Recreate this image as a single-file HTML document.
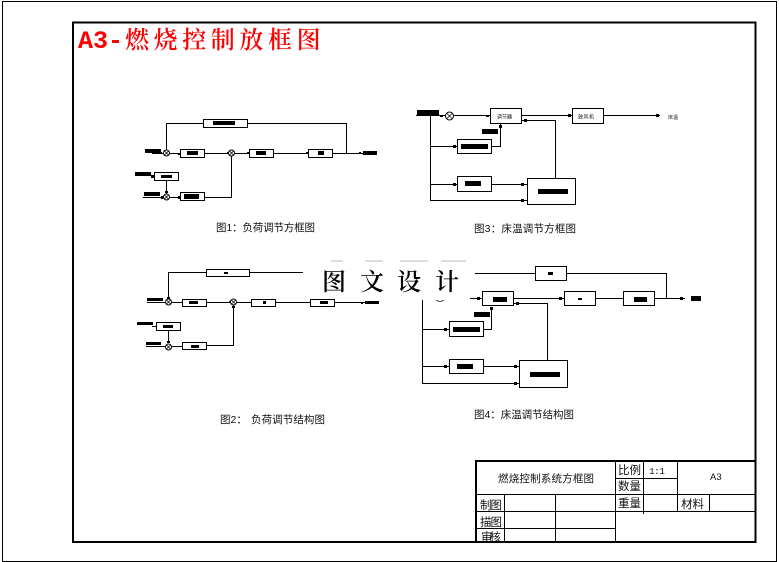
<!DOCTYPE html>
<html><head><meta charset="utf-8">
<style>
html,body{margin:0;padding:0;background:#fff;width:779px;height:562px;overflow:hidden}
svg{display:block}
.l line,.l polyline{stroke:#000;stroke-width:1;fill:none}
.b rect{fill:#fff;stroke:#000;stroke-width:1}
.k rect{fill:#000;stroke:none}
.c circle{fill:#fff;stroke:#000;stroke-width:1}
.c line{stroke:#000;stroke-width:.7}
text{font-family:"Liberation Sans","Noto Sans CJK SC",sans-serif;fill:#111}
</style></head><body>
<svg width="779" height="562" viewBox="0 0 779 562" xmlns="http://www.w3.org/2000/svg">
<rect x="2.5" y="1.5" width="774" height="560" fill="#fff" stroke="#000" stroke-width="1" shape-rendering="crispEdges"/>
<rect x="73" y="22.5" width="682.5" height="519.5" fill="#fff" stroke="#000" stroke-width="2" shape-rendering="crispEdges"/>

<text x="78" y="48" font-size="25" font-weight="bold" style="fill:#ff0000;font-family:'Liberation Mono',monospace">A3-</text>
<text x="125" y="48" font-size="24" style="fill:#ff0000;font-family:'Noto Serif CJK SC',serif;font-weight:600" letter-spacing="4.6">燃烧控制放框图</text>

<!-- Diagram 1 -->
<g shape-rendering="crispEdges">
<g class="l">
<polyline points="166.5,153 166.5,123.5 346.5,123.5 346.5,153"/>
<line x1="152" y1="153.5" x2="363" y2="153.5"/>
<line x1="145" y1="152.5" x2="162" y2="152.5"/>
<line x1="166.5" y1="180" x2="166.5" y2="194"/>
<line x1="143" y1="197.5" x2="180" y2="197.5"/>
<polyline points="204,197.5 231.5,197.5 231.5,153"/>
<line x1="151" y1="176.5" x2="155" y2="176.5"/>
</g>
<g class="b">
<rect x="203.5" y="119.5" width="44" height="8"/>
<rect x="180.5" y="149.5" width="24" height="8"/>
<rect x="249.5" y="149.5" width="24" height="8"/>
<rect x="308.5" y="149.5" width="24" height="8"/>
<rect x="154.5" y="172.5" width="24" height="8"/>
<rect x="180.5" y="192.5" width="24" height="8"/>
</g>
<g class="k">
<rect x="213" y="121" width="22" height="4"/><rect x="187" y="151" width="11" height="4"/>
<rect x="256" y="151" width="10" height="4"/><rect x="318" y="151" width="6" height="4"/>
<rect x="161" y="175" width="11" height="3"/><rect x="184" y="194" width="15" height="5"/>
<rect x="363" y="151" width="14" height="4"/>
<rect x="145" y="149" width="16" height="3"/><rect x="135" y="172" width="16" height="4"/><rect x="144" y="192" width="16" height="4"/>
<rect x="164" y="150" width="2" height="2"/><rect x="178" y="153" width="2" height="2"/><rect x="227" y="152" width="2" height="2"/><rect x="247" y="152" width="2" height="2"/><rect x="306" y="152" width="2" height="2"/><rect x="359" y="152" width="2" height="2"/>
<rect x="165" y="191" width="3" height="2"/><rect x="161" y="196" width="2" height="3"/><rect x="178" y="196" width="2" height="3"/><rect x="151" y="175" width="3" height="3"/>
</g>
</g>
<g class="c">
<circle cx="166.5" cy="153" r="3"/><line x1="164.5" y1="151" x2="168.5" y2="155"/><line x1="168.5" y1="151" x2="164.5" y2="155"/>
<circle cx="231.5" cy="153" r="3"/><line x1="229.5" y1="151" x2="233.5" y2="155"/><line x1="233.5" y1="151" x2="229.5" y2="155"/>
<circle cx="166.5" cy="197" r="3"/><line x1="164.5" y1="195" x2="168.5" y2="199"/><line x1="168.5" y1="195" x2="164.5" y2="199"/>
</g>
<text x="216" y="231" font-size="10.5" textLength="99">图1：负荷调节方框图</text>

<!-- Diagram 3 -->
<g shape-rendering="crispEdges">
<g class="l">
<line x1="416" y1="115.5" x2="445" y2="115.5"/>
<line x1="453" y1="115.5" x2="490" y2="115.5"/>
<line x1="522" y1="115.5" x2="572" y2="115.5"/>
<line x1="604" y1="115.5" x2="660" y2="115.5"/>
<polyline points="430.5,115 430.5,200.5 527,200.5"/>
<line x1="430" y1="146.5" x2="457" y2="146.5"/>
<line x1="430" y1="184.5" x2="457" y2="184.5"/>
<line x1="492" y1="184.5" x2="527" y2="184.5"/>
<polyline points="492,146.5 500.5,146.5 500.5,124"/>
<polyline points="555.5,178 555.5,120.5 522,120.5"/>
</g>
<g class="b">
<rect x="490.5" y="108.5" width="31" height="15"/>
<rect x="572.5" y="108.5" width="31" height="15"/>
<rect x="457.5" y="139.5" width="34" height="14"/>
<rect x="457.5" y="176.5" width="34" height="15"/>
<rect x="527.5" y="178.5" width="48" height="26"/>
</g>
<g class="k">
<rect x="417" y="110" width="22" height="5"/>
<rect x="461" y="144" width="27" height="5"/><rect x="465" y="181" width="16" height="5"/><rect x="538" y="189" width="30" height="5"/>
<rect x="482" y="129" width="16" height="5"/>
<rect x="440" y="115" width="3" height="2"/><rect x="486" y="115" width="3" height="2"/><rect x="568" y="114" width="3" height="3"/><rect x="656" y="114" width="3" height="3"/>
<rect x="453" y="145" width="3" height="3"/><rect x="453" y="183" width="3" height="3"/><rect x="521" y="183" width="3" height="3"/><rect x="521" y="199" width="3" height="3"/>
<rect x="499" y="125" width="3" height="3"/><rect x="524" y="119" width="3" height="3"/>
</g>
</g>
<g class="c"><circle cx="449.5" cy="116" r="4"/><line x1="446.7" y1="113.2" x2="452.3" y2="118.8"/><line x1="452.3" y1="113.2" x2="446.7" y2="118.8"/></g>
<text x="497" y="118.5" font-size="5" textLength="15">调节器</text>
<text x="578" y="118.5" font-size="5" textLength="16">鼓风机</text>
<text x="668" y="119" font-size="5" textLength="10">床温</text>
<text x="474" y="232" font-size="10.5" textLength="102">图3：床温调节方框图</text>

<!-- Diagram 2 -->
<g shape-rendering="crispEdges">
<g class="l">
<polyline points="168.5,299 168.5,272.5 304,272.5"/>
<line x1="171" y1="302.5" x2="365" y2="302.5"/>
<line x1="147" y1="302.5" x2="165" y2="302.5"/>
<line x1="168.5" y1="330" x2="168.5" y2="343"/>
<line x1="146" y1="346.5" x2="182" y2="346.5"/>
<polyline points="207,345.5 233.5,345.5 233.5,305"/>
<line x1="152" y1="326.5" x2="156" y2="326.5"/>
</g>
<g class="b">
<rect x="206.5" y="269.5" width="43" height="7"/>
<rect x="182.5" y="299.5" width="24" height="7"/>
<rect x="251.5" y="299.5" width="24" height="7"/>
<rect x="310.5" y="299.5" width="24" height="7"/>
<rect x="156.5" y="322.5" width="24" height="8"/>
<rect x="182.5" y="342.5" width="24" height="7"/>
</g>
<g class="k">
<rect x="224" y="272" width="4" height="2"/><rect x="189" y="301" width="9" height="3"/><rect x="263" y="301" width="3" height="3"/>
<rect x="320" y="301" width="8" height="3"/><rect x="163" y="325" width="10" height="3"/><rect x="191" y="345" width="8" height="3"/>
<rect x="365" y="301" width="14" height="3"/>
<rect x="147" y="298" width="16" height="3"/><rect x="137" y="322" width="16" height="3"/><rect x="146" y="342" width="15" height="3"/>
<rect x="167" y="297" width="3" height="2"/><rect x="232" y="306" width="3" height="2"/><rect x="167" y="341" width="3" height="2"/>
<rect x="229" y="301" width="2" height="2"/><rect x="361" y="302" width="2" height="2"/>
</g>
</g>
<g class="c">
<circle cx="168.5" cy="302" r="3"/><line x1="166.5" y1="300" x2="170.5" y2="304"/><line x1="170.5" y1="300" x2="166.5" y2="304"/>
<circle cx="233.5" cy="302" r="3"/><line x1="231.5" y1="300" x2="235.5" y2="304"/><line x1="235.5" y1="300" x2="231.5" y2="304"/>
<circle cx="168.5" cy="347" r="3"/><line x1="166.5" y1="345" x2="170.5" y2="349"/><line x1="170.5" y1="345" x2="166.5" y2="349"/>
</g>
<text x="220" y="423" font-size="10.5">图2：</text>
<text x="251" y="423" font-size="10.5" textLength="74">负荷调节结构图</text>

<!-- Diagram 4 -->
<g shape-rendering="crispEdges">
<g class="l">
<polyline points="475,273.5 666.5,273.5 666.5,298"/>
<line x1="470" y1="298.5" x2="482" y2="298.5"/>
<line x1="514" y1="298.5" x2="685" y2="298.5"/>
<polyline points="422.5,300 422.5,383.5 519,383.5"/>
<line x1="422" y1="329.5" x2="449" y2="329.5"/>
<line x1="422" y1="366.5" x2="449" y2="366.5"/>
<line x1="484" y1="366.5" x2="519" y2="366.5"/>
<polyline points="484,329.5 491.5,329.5 491.5,307"/>
<polyline points="547.5,360 547.5,303.5 514,303.5"/>
</g>
<g class="b">
<rect x="535.5" y="266.5" width="31" height="14"/>
<rect x="482.5" y="291.5" width="31" height="14"/>
<rect x="564.5" y="291.5" width="31" height="14"/>
<rect x="623.5" y="291.5" width="31" height="14"/>
<rect x="449.5" y="321.5" width="34" height="15"/>
<rect x="449.5" y="359.5" width="34" height="14"/>
<rect x="519.5" y="360.5" width="48" height="27"/>
</g>
<g class="k">
<rect x="548" y="272" width="5" height="3"/><rect x="493" y="297" width="14" height="5"/><rect x="578" y="298" width="4" height="2"/>
<rect x="634" y="297" width="13" height="5"/><rect x="453" y="327" width="27" height="5"/><rect x="457" y="364" width="16" height="5"/>
<rect x="530" y="372" width="30" height="5"/><rect x="474" y="312" width="16" height="5"/><rect x="691" y="296" width="10" height="5"/>
<rect x="477" y="297" width="3" height="3"/><rect x="559" y="297" width="3" height="3"/><rect x="680" y="297" width="3" height="3"/>
<rect x="444" y="328" width="3" height="3"/><rect x="444" y="365" width="3" height="3"/><rect x="514" y="365" width="3" height="3"/><rect x="514" y="382" width="3" height="3"/>
<rect x="490" y="307" width="3" height="3"/><rect x="516" y="302" width="3" height="3"/>
</g>
</g>
<text x="474" y="418" font-size="10.5" textLength="100">图4：床温调节结构图</text>

<!-- overlay watermark -->
<rect x="303" y="262" width="165" height="37" fill="#fff"/>
<path d="M331 261h12M365 261h18M400 261h28M441 261h25" stroke="#bbb" stroke-width="1" fill="none"/>
<path d="M436 300q4 3 8 0" stroke="#444" stroke-width="1" fill="none"/>
<text x="322" y="290" font-size="24" style="fill:#000;font-family:'Noto Serif CJK SC',serif;font-weight:600">图</text>
<text x="360" y="290" font-size="24" style="fill:#000;font-family:'Noto Serif CJK SC',serif;font-weight:600">文</text>
<text x="397" y="290" font-size="24" style="fill:#000;font-family:'Noto Serif CJK SC',serif;font-weight:600">设</text>
<text x="435" y="290" font-size="24" style="fill:#000;font-family:'Noto Serif CJK SC',serif;font-weight:600">计</text>

<!-- Title block -->
<g shape-rendering="crispEdges">
<rect x="476" y="461" width="279.5" height="81" fill="#fff" stroke="#000" stroke-width="2"/>
<g class="l">
<line x1="476" y1="494.5" x2="755" y2="494.5"/>
<line x1="476" y1="511.5" x2="755" y2="511.5"/>
<line x1="476" y1="528.5" x2="616" y2="528.5"/>
<line x1="616" y1="478.5" x2="677" y2="478.5"/>
<line x1="615.5" y1="461" x2="615.5" y2="542"/>
<line x1="643.5" y1="461" x2="643.5" y2="514"/>
<line x1="677.5" y1="461" x2="677.5" y2="512"/>
<line x1="504.5" y1="494" x2="504.5" y2="542"/>
<line x1="555.5" y1="494" x2="555.5" y2="542"/>
<line x1="709.5" y1="494" x2="709.5" y2="512"/>
</g>
</g>
<text x="498" y="482" font-size="10.5" textLength="96">燃烧控制系统方框图</text>
<text x="618" y="474" font-size="11.5" textLength="23">比例</text>
<text x="618" y="490" font-size="11.5" textLength="23">数量</text>
<text x="618" y="507" font-size="11.5" textLength="23">重量</text>
<text x="649" y="474" font-size="9.5" textLength="16" style="font-family:'Liberation Mono',monospace">1:1</text>
<text x="710" y="480" font-size="9.5">A3</text>
<text x="681" y="508" font-size="11.5" textLength="23">材料</text>
<text x="480" y="509" font-size="11.5" textLength="22">制图</text>
<text x="480" y="526" font-size="11.5" textLength="22">描图</text>
<svg x="476" y="529" width="29" height="12" overflow="hidden"><text x="5" y="12" font-size="11.5" textLength="20">审核</text></svg>
</svg>
</body></html>
